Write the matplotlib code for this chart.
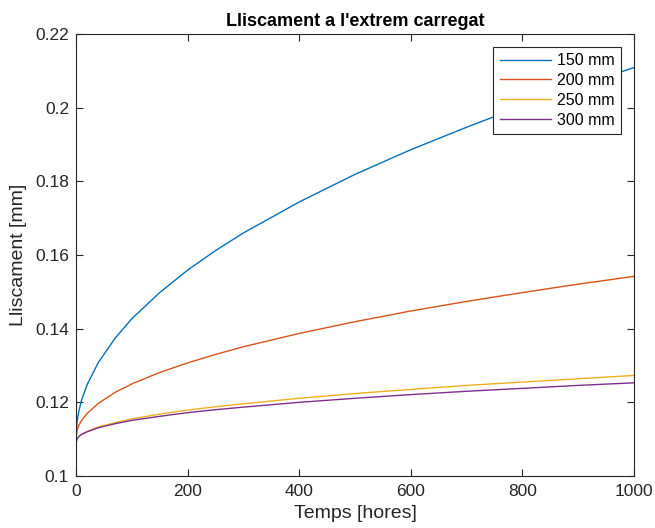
import matplotlib.pyplot as plt
from matplotlib.ticker import FormatStrFormatter

plt.rcParams['font.family'] = ['Liberation Sans', 'DejaVu Sans']

# time [hores]
t = [0, 2, 5, 10, 20, 40, 70, 100, 150, 200, 250, 300, 400, 500, 600, 700, 800, 900, 1000]

# lliscament [mm]
s150 = [0.1100, 0.1148, 0.1175, 0.1206, 0.1248, 0.1308, 0.1374, 0.1427, 0.1498, 0.1559,
        0.1612, 0.1660, 0.1744, 0.1819, 0.1886, 0.1947, 0.2005, 0.2059, 0.2109]
s200 = [0.1100, 0.1124, 0.1137, 0.1151, 0.1170, 0.1197, 0.1227, 0.1250, 0.1281, 0.1307,
        0.1330, 0.1351, 0.1387, 0.1419, 0.1448, 0.1474, 0.1498, 0.1521, 0.1542]
s250 = [0.1090, 0.1101, 0.1107, 0.1113, 0.1121, 0.1133, 0.1145, 0.1155, 0.1168, 0.1179,
        0.1188, 0.1196, 0.1211, 0.1224, 0.1235, 0.1246, 0.1255, 0.1264, 0.1273]
s300 = [0.1090, 0.1101, 0.1107, 0.1113, 0.1120, 0.1131, 0.1142, 0.1151, 0.1162, 0.1172,
        0.1180, 0.1187, 0.1200, 0.1211, 0.1221, 0.1230, 0.1238, 0.1246, 0.1253]

labels = ['150 mm', '200 mm', '250 mm', '300 mm']
colors = ['#0072BD', '#D95319', '#EDB120', '#7E2F8E']

fig = plt.figure(figsize=(6.55, 5.28), dpi=100)
ax = fig.add_axes([0.116, 0.0985, 0.852, 0.837])

for y, lab, c in zip([s150, s200, s250, s300], labels, colors):
    ax.plot(t, y, color=c, lw=1.0, label=lab)

ax.set_xlim(0, 1000)
ax.set_ylim(0.1, 0.22)
ax.set_xticks([0, 200, 400, 600, 800, 1000])
ax.set_yticks([0.1, 0.12, 0.14, 0.16, 0.18, 0.2, 0.22])
ax.yaxis.set_major_formatter(FormatStrFormatter('%g'))

ax.tick_params(direction='in', top=True, right=True, length=5, width=0.8,
               colors='#262626', labelsize=12.5)
ax.tick_params(axis='x', pad=6)
ax.tick_params(axis='y', pad=5)
for sp in ax.spines.values():
    sp.set_color('#262626')
    sp.set_linewidth(0.8)

ax.set_xlabel('Temps [hores]', fontsize=14, color='#262626', labelpad=4)
ax.set_ylabel('Lliscament [mm]', fontsize=14, color='#262626', labelpad=6)
ax.set_title("Lliscament a l'extrem carregat", fontsize=13, fontweight='bold',
             color='black', pad=6)

leg = ax.legend(loc='upper right', fontsize=11.5, fancybox=False, framealpha=1,
                edgecolor='#262626', borderaxespad=0.8, handlelength=3.2,
                handletextpad=0.4, labelspacing=0.3, borderpad=0.4)
leg.get_frame().set_linewidth(0.8)

fig.savefig('out.png', dpi=100)
